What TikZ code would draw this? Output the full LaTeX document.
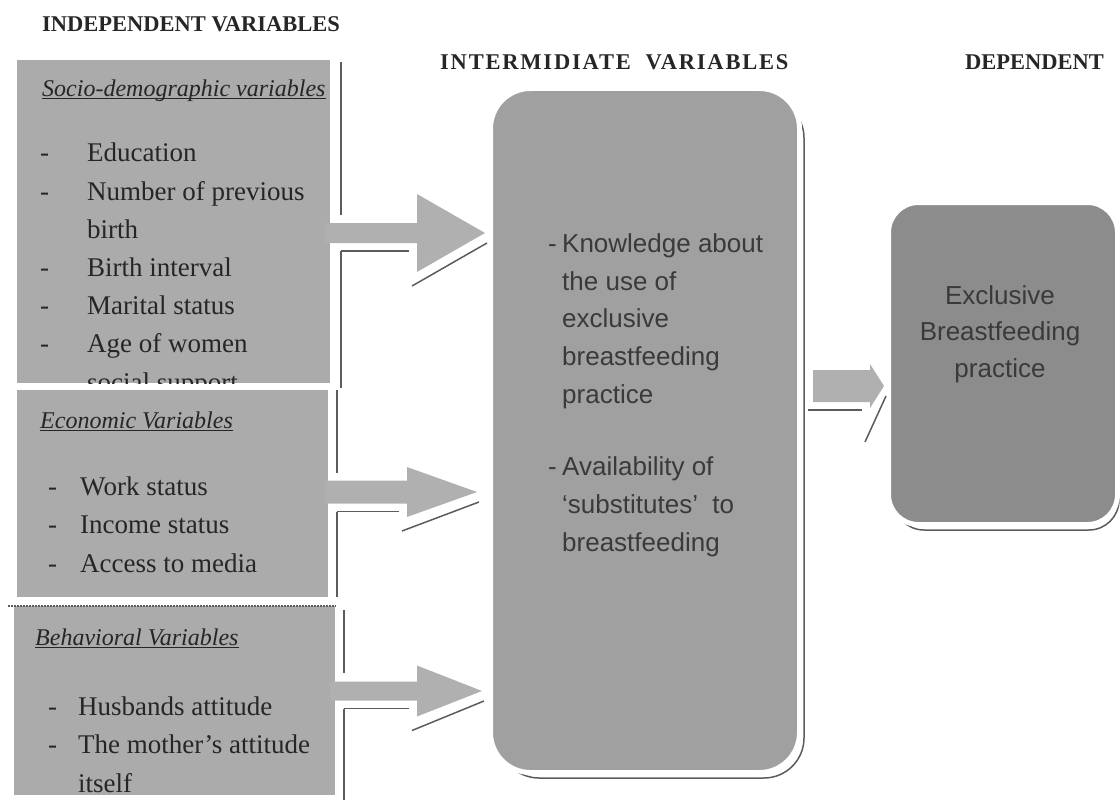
\documentclass[tikz,border=0pt]{standalone}
\usepackage{fontspec}
\setmainfont{Liberation Serif}
\setsansfont{Liberation Sans}
\definecolor{boxgray}{HTML}{ABABAB}
\definecolor{midgray}{HTML}{A0A0A0}
\definecolor{depgray}{HTML}{8C8C8C}
\definecolor{arrowgray}{HTML}{B0B0B0}
\definecolor{edgegray}{HTML}{5C5C5C}
\definecolor{inkgray}{HTML}{262626}
\definecolor{softink}{HTML}{3A3A3A}
\newcommand{\dashcol}[1]{\makebox[#1pt][l]{-}}
\newcommand{\flowarrow}[8]{%
  \fill[arrowgray] (#1,#4-#5) -- (#2,#4-#5) -- (#2,#4-#6) -- (#3,#4) -- (#2,#4+#6) -- (#2,#4+#5) -- (#1,#4+#5) -- cycle;
  \draw[edgeline] (#7,#4+#5+8) -- (#2-8,#4+#5+8);
  \draw[edgeline] (#2-5,#4+#8+14) -- (#3+2,#4+10);
}
\begin{document}
\begin{tikzpicture}[x=1pt,y=-1pt,
  head/.style={font=\bfseries\fontsize{22.5}{27}\selectfont, text=inkgray, inner sep=0, anchor=west},
  leftbox/.style={fill=boxgray, inner sep=0, anchor=north west},
  boxtitle/.style={font=\itshape\fontsize{24}{28}\selectfont, text=inkgray, inner sep=0, anchor=base west},
  itemtext/.style={font=\fontsize{27}{38.2}\selectfont, text=inkgray, inner sep=0, align=left, anchor=base west},
  midtext/.style={font=\sffamily\fontsize{26}{37.6}\selectfont, text=softink, inner sep=0, align=left, anchor=base west},
  deptext/.style={font=\sffamily\fontsize{26}{36.5}\selectfont, text=softink, inner sep=0, align=center},
  roundbox/.style={draw=white, line width=5pt, inner sep=0, anchor=north west},
  edgeline/.style={draw=edgegray, line width=1.5pt},
  uline/.style={draw=inkgray, line width=0.9pt},
  dotline/.style={draw=edgegray, line width=2pt, densely dotted}]
\useasboundingbox (0,0) rectangle (1120,800);

\node[head] (indep) at (42,24) {INDEPENDENT VARIABLES};
\node[head, anchor=west] (inter) at (440,62) {\addfontfeature{LetterSpace=8}INTERMIDIATE\ \ VARIABLES};
\node[head, anchor=west] (depend) at (965,62) {DEPENDENT};

\node[leftbox, minimum width=313pt, minimum height=323pt] (socio) at (17,60) {};
\node[leftbox, minimum width=311pt, minimum height=207pt] (econ) at (17,390) {};
\node[leftbox, minimum width=321pt, minimum height=189pt] (behav) at (14,606) {};
\draw[dotline] ([xshift=-6pt]behav.north west) -- (behav.north east);

\node[boxtitle] (sociotitle) at (42,96) {Socio-demographic variables};
\node[boxtitle] (econtitle) at (40,428) {Economic Variables};
\node[boxtitle] (behavtitle) at (35,645) {Behavioral Variables};
\foreach \t in {sociotitle,econtitle,behavtitle}
  \draw[uline] ([yshift=-2.5pt]\t.base west) -- ([yshift=-2.5pt]\t.base east);

\begin{scope}
\clip (socio.north west) rectangle (socio.south east);
\node[itemtext] (socioitems) at (40,391) {\dashcol{47}Education\\\dashcol{47}Number of previous\\\hspace*{47pt}birth\\\dashcol{47}Birth interval\\\dashcol{47}Marital status\\\dashcol{47}Age of women\\\hspace*{47pt}social support};
\end{scope}
\node[itemtext] (econitems) at (48,572) {\dashcol{32}Work status\\\dashcol{32}Income status\\\dashcol{32}Access to media};
\node[itemtext] (behavitems) at (48,792) {\dashcol{30}Husbands attitude\\\dashcol{30}The mother's attitude\\\hspace*{30pt}itself};

\draw[edgeline] (341,62) -- (341,215);
\draw[edgeline] (341,251) -- (341,388);
\draw[edgeline] (337,390) -- (337,473);
\draw[edgeline] (337,512) -- (337,597);
\draw[edgeline] (344,610) -- (344,673);
\draw[edgeline] (344,709) -- (344,800);

\flowarrow{325}{417}{485}{233}{10}{39}{341}{39}
\flowarrow{325}{407}{477}{492}{11.5}{25}{337}{25}
\flowarrow{330}{417}{482}{691}{9.5}{25.5}{344}{25.5}

\draw[edgeline, rounded corners=40pt] (499,98) rectangle (804,778);
\node[roundbox, fill=midgray, rounded corners=40pt, minimum width=309pt, minimum height=684pt] (mid) at (488,86) {};
\node[midtext] (knowl) at (548,403) {\dashcol{14}Knowledge about\\\hspace*{14pt}the use of\\\hspace*{14pt}exclusive\\\hspace*{14pt}breastfeeding\\\hspace*{14pt}practice};
\node[midtext] (avail) at (548,551) {\dashcol{14}Availability of\\\hspace*{14pt}`substitutes'\ \ to\\\hspace*{14pt}breastfeeding};

\draw[edgeline, rounded corners=30pt] (894,212) rectangle (1119,530);
\node[roundbox, fill=depgray, rounded corners=30pt, minimum width=229pt, minimum height=322pt] (dep) at (886,200) {};
\node[deptext] (deptxt) at (1000,334) {Exclusive\\Breastfeeding\\practice};

\flowarrow{813}{870}{884}{386}{16}{22}{808}{42}
\end{tikzpicture}
\end{document}
